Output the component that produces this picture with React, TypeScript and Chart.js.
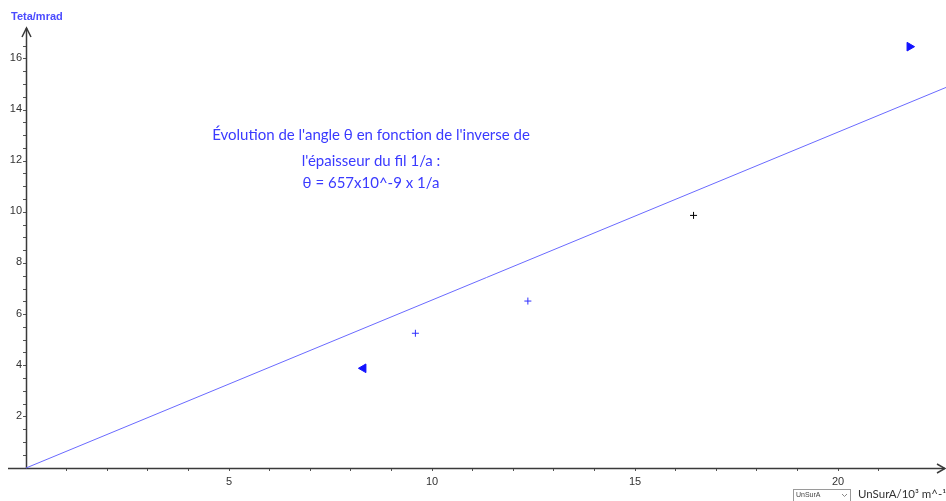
import React, { useEffect, useRef } from "react";
import { Chart, registerables } from "chart.js";

Chart.register(...registerables);

// Measured points (UnSurA in 10^3 m^-1, Teta in mrad)
const crossBlueX = [9.59, 12.36];
const crossBlueY = [5.27, 6.53];
const crossBlackX = [16.44];
const crossBlackY = [9.88];
const triLeftX = [8.31];
const triLeftY = [3.9];
const triRightX = [21.76];
const triRightY = [16.48];
// Fitted model line θ = 657x10^-9 x 1/a (endpoints)
const fitX = [0, 23];
const fitY = [0, 15.11];

const xMax = 22.51;
const yMax = 17.21;
const xLabelTicks = [5, 10, 15, 20];
const yLabelTicks = [2, 4, 6, 8, 10, 12, 14, 16];

const annotationLines = [
  "Évolution de l'angle θ en fonction de l'inverse de",
  "l'épaisseur du fil 1/a :",
  "θ = 657x10^-9 x 1/a",
];
const yTitle = "Teta/mrad";
const xTitle = "UnSurA/10³ m^-¹";
const selectText = "UnSurA";

const pts = (xs: number[], ys: number[]) => xs.map((x, i) => ({ x, y: ys[i] }));

const overlayPlugin = {
  id: "overlay",
  beforeDatasetsDraw(chart: any) {
    const ctx = chart.ctx;
    const xs = chart.scales.x;
    const ys = chart.scales.y;
    const x0 = Math.round(xs.getPixelForValue(0)) + 0.5;
    const y0 = Math.round(ys.getPixelForValue(0)) + 0.5;
    ctx.save();
    ctx.strokeStyle = "#3a3a3a";
    ctx.lineWidth = 1.5;
    // x axis
    ctx.beginPath();
    ctx.moveTo(8, y0);
    ctx.lineTo(945, y0);
    ctx.stroke();
    ctx.beginPath();
    ctx.moveTo(937, y0 - 4.5);
    ctx.lineTo(945, y0);
    ctx.lineTo(937, y0 + 4.5);
    ctx.stroke();
    // y axis
    ctx.beginPath();
    ctx.moveTo(x0, y0);
    ctx.lineTo(x0, 28);
    ctx.stroke();
    ctx.beginPath();
    ctx.moveTo(x0 - 4.5, 37);
    ctx.lineTo(x0, 28);
    ctx.lineTo(x0 + 4.5, 37);
    ctx.stroke();
    ctx.restore();
  },
  afterDraw(chart: any) {
    const ctx = chart.ctx;
    ctx.save();
    // y title
    ctx.fillStyle = "#4b4bff";
    ctx.font = "bold 11px 'Liberation Sans'";
    ctx.textAlign = "left";
    ctx.textBaseline = "middle";
    ctx.fillText(yTitle, 11, 17);
    // annotation
    ctx.fillStyle = "#3a3aff";
    ctx.font = "15px Lato";
    ctx.textAlign = "center";
    const ys = [135, 161, 183];
    annotationLines.forEach((t, i) => ctx.fillText(t, 371, ys[i]));
    // x title
    ctx.fillStyle = "#333";
    ctx.font = "11.5px Lato";
    ctx.textAlign = "left";
    ctx.fillText(xTitle, 858, 494);
    // select box
    ctx.strokeStyle = "#9a9a9a";
    ctx.lineWidth = 1;
    ctx.strokeRect(793.5, 489.5, 57, 13);
    ctx.fillStyle = "#444";
    ctx.font = "7px 'Liberation Sans'";
    ctx.fillText(selectText, 796, 495);
    ctx.strokeStyle = "#888";
    ctx.beginPath();
    ctx.moveTo(842, 494);
    ctx.lineTo(844.5, 496.5);
    ctx.lineTo(847, 494);
    ctx.stroke();
    ctx.restore();
  },
};

export default function App() {
  const ref = useRef<HTMLCanvasElement>(null);
  useEffect(() => {
    if (!ref.current) return;
    const tickFont = { family: "'Liberation Sans'", size: 11 };
    const chart = new Chart(ref.current, {
      type: "scatter",
      data: {
        datasets: [
          {
            type: "line",
            data: pts(fitX, fitY),
            borderColor: "#6a6aff",
            borderWidth: 1,
            pointRadius: 0,
            fill: false,
            clip: false,
          } as any,
          {
            data: pts(crossBlueX, crossBlueY),
            pointStyle: "cross",
            pointRadius: 3.5,
            borderColor: "#3030ff",
            borderWidth: 1,
          },
          {
            data: pts(crossBlackX, crossBlackY),
            pointStyle: "cross",
            pointRadius: 3.5,
            borderColor: "#000",
            borderWidth: 1,
          },
          {
            data: pts(triLeftX, triLeftY),
            pointStyle: "triangle",
            rotation: -90,
            pointRadius: 5,
            backgroundColor: "#1212ff",
            borderColor: "#1212ff",
            borderWidth: 1,
          },
          {
            data: pts(triRightX, triRightY),
            pointStyle: "triangle",
            rotation: 90,
            pointRadius: 5,
            backgroundColor: "#1212ff",
            borderColor: "#1212ff",
            borderWidth: 1,
            clip: false,
          } as any,
        ],
      },
      options: {
        animation: false,
        responsive: false,
        layout: { padding: { top: 28, left: 0, right: 0, bottom: 0 } },
        plugins: { legend: { display: false }, tooltip: { enabled: false } },
        scales: {
          x: {
            type: "linear",
            min: 0,
            max: xMax,
            afterFit: (s: any) => {
              s.height = 33;
              s.paddingLeft = 0;
              s.paddingRight = 0;
            },
            afterBuildTicks: (s: any) => {
              s.ticks = s.ticks.filter((t: any) => Number.isInteger(t.value) && t.value > 0);
            },
            border: { display: false },
            grid: { drawOnChartArea: false, drawTicks: true, tickLength: 3, tickColor: "#555" },
            ticks: {
              stepSize: 1,
              autoSkip: false,
              maxRotation: 0,
              padding: 4,
              color: "#333",
              font: tickFont,
              callback: (v: any) => (xLabelTicks.includes(v) ? String(v) : ""),
            },
          },
          y: {
            type: "linear",
            min: 0,
            max: yMax,
            afterFit: (s: any) => {
              s.width = 26;
              s.paddingTop = 0;
              s.paddingBottom = 0;
            },
            afterBuildTicks: (s: any) => {
              s.ticks = s.ticks.filter((t: any) => Number.isInteger(t.value * 2) && t.value > 0);
            },
            border: { display: false },
            grid: { drawOnChartArea: false, drawTicks: true, tickLength: 3, tickColor: "#555" },
            ticks: {
              stepSize: 0.5,
              autoSkip: false,
              padding: 1,
              labelOffset: -1,
              color: "#333",
              font: tickFont,
              callback: (v: any) => (yLabelTicks.includes(v) ? String(v) : ""),
            },
          },
        },
      },
      plugins: [overlayPlugin],
    });
    return () => chart.destroy();
  }, []);
  return (
    <div style={{ position: "absolute", left: 0, top: 0, width: 946, height: 501, background: "#fff" }}>
      <canvas ref={ref} width={946} height={501} style={{ display: "block" }} />
    </div>
  );
}
